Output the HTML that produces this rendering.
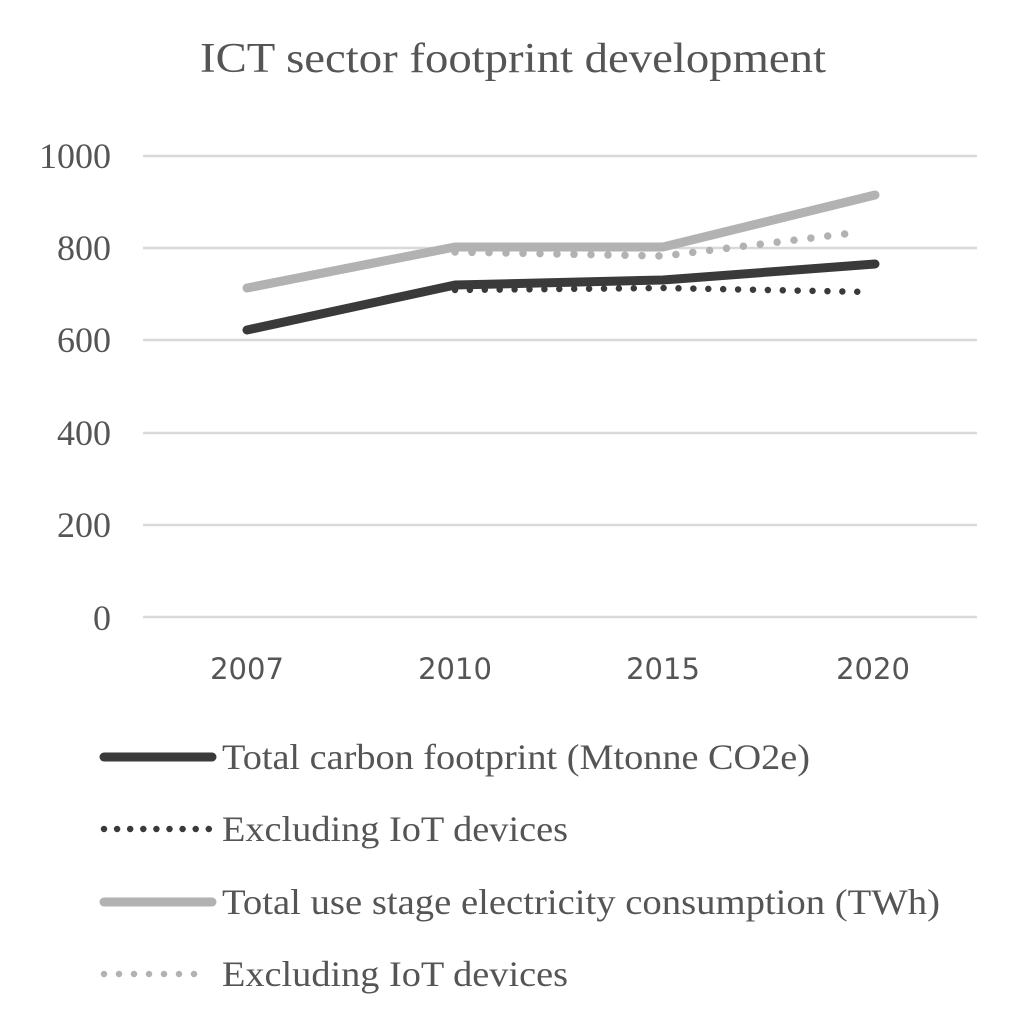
<!DOCTYPE html>
<html><head><meta charset="utf-8"><style>body{margin:0;background:#fff}</style></head>
<body>
<svg width="1024" height="1011" viewBox="0 0 1024 1011" xmlns="http://www.w3.org/2000/svg">
<text x="200" y="72" textLength="626" lengthAdjust="spacingAndGlyphs" font-family="Liberation Serif, serif" font-size="42" fill="#555">ICT sector footprint development</text>
<g stroke="#d9d9d9" stroke-width="2.5">
<line x1="143" y1="156" x2="977" y2="156"/>
<line x1="143" y1="248" x2="977" y2="248"/>
<line x1="143" y1="340" x2="977" y2="340"/>
<line x1="143" y1="433" x2="977" y2="433"/>
<line x1="143" y1="525" x2="977" y2="525"/>
<line x1="143" y1="617" x2="977" y2="617"/>
</g>
<g font-family="Liberation Serif, serif" font-size="36" fill="#555" text-anchor="end">
<text x="111" y="168">1000</text>
<text x="111" y="260">800</text>
<text x="111" y="352">600</text>
<text x="111" y="445">400</text>
<text x="111" y="537">200</text>
<text x="111" y="630">0</text>
</g>
<g font-family="DejaVu Sans, sans-serif" font-size="29" fill="#555" text-anchor="middle">
<text x="247" y="679">2007</text>
<text x="455" y="679">2010</text>
<text x="663" y="679">2015</text>
<text x="873" y="679">2020</text>
</g>
<g fill="none" stroke-linecap="round" stroke-linejoin="round">
<polyline points="247,288 455,247 663,247 875,195" stroke="#b2b2b2" stroke-width="9"/>
<polyline points="455,252 663,256 861,232" stroke="#b2b2b2" stroke-width="7.5" stroke-dasharray="0 17"/>
<polyline points="247,330 455,285 663,280 875,264" stroke="#3a3a3a" stroke-width="9"/>
<polyline points="455,290 663,288 871,292" stroke="#3a3a3a" stroke-width="6.5" stroke-dasharray="0 14.9"/>
<line x1="104" y1="757" x2="212" y2="757" stroke="#3a3a3a" stroke-width="9"/>
<line x1="104" y1="829" x2="209" y2="829" stroke="#3a3a3a" stroke-width="6.5" stroke-dasharray="0 13.1"/>
<line x1="104" y1="902" x2="212" y2="902" stroke="#b2b2b2" stroke-width="9"/>
<line x1="104" y1="974" x2="209" y2="974" stroke="#b2b2b2" stroke-width="6.5" stroke-dasharray="0 15"/>
</g>
<g font-family="Liberation Serif, serif" font-size="36" fill="#555">
<text x="222" y="769" textLength="588" lengthAdjust="spacingAndGlyphs">Total carbon footprint (Mtonne CO2e)</text>
<text x="222" y="841" textLength="346" lengthAdjust="spacingAndGlyphs">Excluding IoT devices</text>
<text x="222" y="914" textLength="718" lengthAdjust="spacingAndGlyphs">Total use stage electricity consumption (TWh)</text>
<text x="222" y="986" textLength="346" lengthAdjust="spacingAndGlyphs">Excluding IoT devices</text>
</g>
</svg>
</body></html>
